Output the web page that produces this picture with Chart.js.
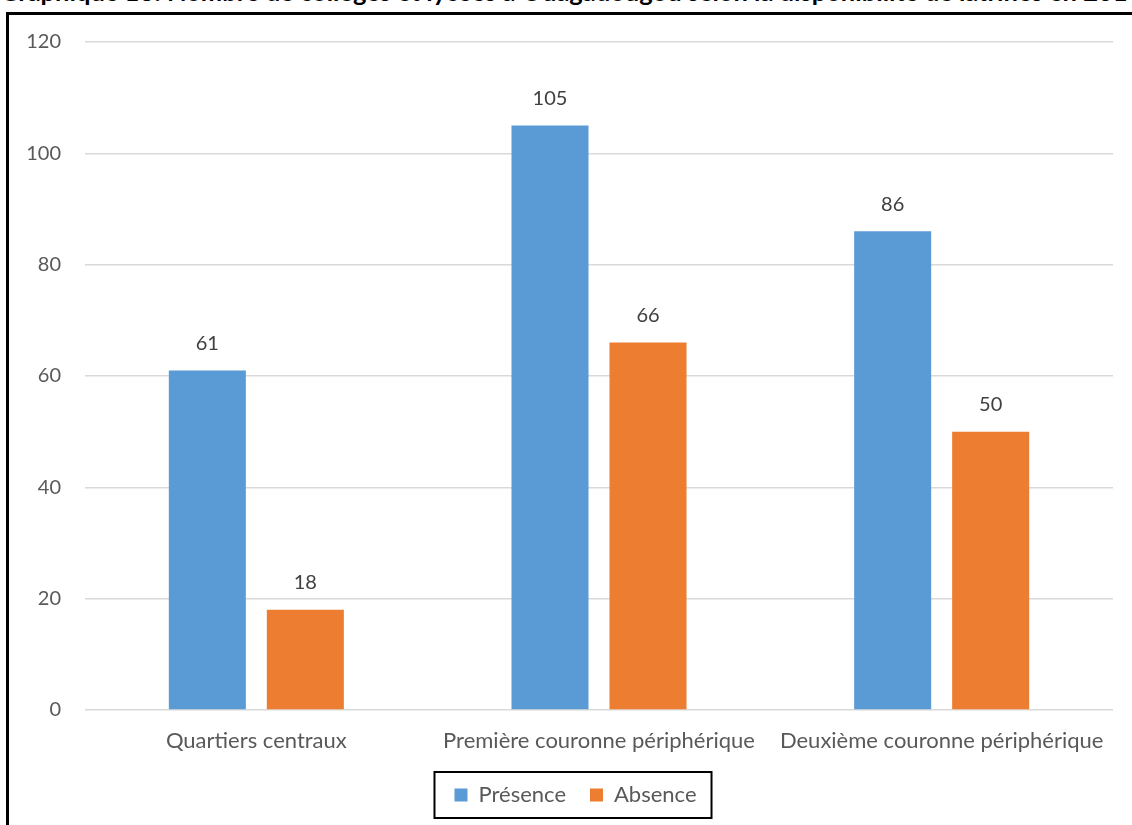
<!DOCTYPE html>
<html>
<head>
<meta charset="utf-8">
<script src="https://cdn.jsdelivr.net/npm/chart.js@4/dist/chart.umd.min.js"></script>
<style>
  html, body { margin: 0; padding: 0; background: #fff; overflow: hidden; }
  body { width: 1132px; height: 825px; position: relative; }
  #title {
    position: absolute; left: 0; top: -21px; white-space: nowrap;
    font: bold 25.5px/25px Lato, sans-serif; color: #000;
  }
  #cadre {
    position: absolute; left: 6px; top: 12px; width: 1200px; height: 900px;
    border-left: 3px solid #000; border-top: 3px solid #000;
  }
  #wrap { position: absolute; left: 0; top: 0; width: 1132px; height: 825px; }
</style>
</head>
<body>
<div id="title">Graphique 13: Nombre de collèges et lycées à Ouagadougou  selon la disponibilité de latrines en 2014</div>
<div id="cadre"></div>
<div id="wrap"><canvas id="graph"></canvas></div>
<script>
const categories = ['Quartiers centraux', 'Première couronne périphérique', 'Deuxième couronne périphérique'];
const presence = [61, 105, 86];
const absence = [18, 66, 50];
const yTicks = [0, 20, 40, 60, 80, 100, 120];

const police = 'Lato, sans-serif';

// valeurs au-dessus des barres
const etiquettes = {
  id: 'etiquettes',
  afterDatasetsDraw(chart) {
    const ctx = chart.ctx;
    ctx.save();
    ctx.font = '20px ' + police;
    ctx.fillStyle = '#404040';
    ctx.textAlign = 'center';
    ctx.textBaseline = 'middle';
    chart.data.datasets.forEach((ds, i) => {
      chart.getDatasetMeta(i).data.forEach((bar, j) => {
        ctx.fillText(ds.data[j], bar.x, bar.y - 27);
      });
    });
    ctx.restore();
  }
};

// légende décalée vers la droite + cadre noir autour
const DECALAGE = 19;
const cadreLegende = {
  id: 'cadreLegende',
  afterLayout(chart) {
    const lg = chart.legend;
    lg.left += DECALAGE;
    lg.right += DECALAGE;
    (lg.legendHitBoxes || []).forEach(h => { h.left += DECALAGE; });
  },
  afterDraw(chart) {
    const boxes = chart.legend.legendHitBoxes;
    if (!boxes || !boxes.length) return;
    const first = boxes[0], last = boxes[boxes.length - 1];
    const x1 = first.left - 20, x2 = last.left + last.width + 15;
    const cy = first.top + first.height / 2;
    const ctx = chart.ctx;
    ctx.save();
    ctx.strokeStyle = '#000';
    ctx.lineWidth = 2;
    ctx.strokeRect(x1, cy - 23, x2 - x1, 46);
    ctx.restore();
  }
};

window.onload = function(){
  const data = {
    labels: categories,
    datasets: [{
      label: 'Présence',
      data: presence,
      backgroundColor: '#5B9BD5',
      categoryPercentage: 0.572,
      barPercentage: 0.786
    }, {
      label: 'Absence',
      data: absence,
      backgroundColor: '#ED7D31',
      categoryPercentage: 0.572,
      barPercentage: 0.786
    }]
  };

  const config = {
    type: 'bar',
    data: data,
    options: {
      responsive: false,
      animation: false,
      layout: { padding: { left: 0, right: 19, top: 42, bottom: 9 } },
      plugins: {
        tooltip: { enabled: false },
        legend: {
          position: 'bottom',
          labels: {
            boxWidth: 13, boxHeight: 13, padding: 24,
            color: '#595959',
            font: { family: police, size: 22 }
          }
        }
      },
      scales: {
        x: {
          grid: { display: false, drawTicks: false },
          border: { display: false },
          ticks: { color: '#595959', padding: 18, font: { family: police, size: 22 } },
          afterFit(s) { s.height = 50; }
        },
        y: {
          min: 0, max: 120,
          afterBuildTicks(s) { s.ticks = yTicks.map(v => ({ value: v })); },
          grid: { color: '#D9D9D9', lineWidth: 1.5, drawTicks: false },
          border: { display: false },
          ticks: { color: '#595959', padding: 24, font: { family: police, size: 20 } },
          afterFit(s) { s.width = 85; }
        }
      }
    },
    plugins: [etiquettes, cadreLegende]
  };

  const canvas = document.getElementById('graph');
  canvas.width = 1132;
  canvas.height = 825;
  new Chart(canvas, config);
};
</script>
</body>
</html>
